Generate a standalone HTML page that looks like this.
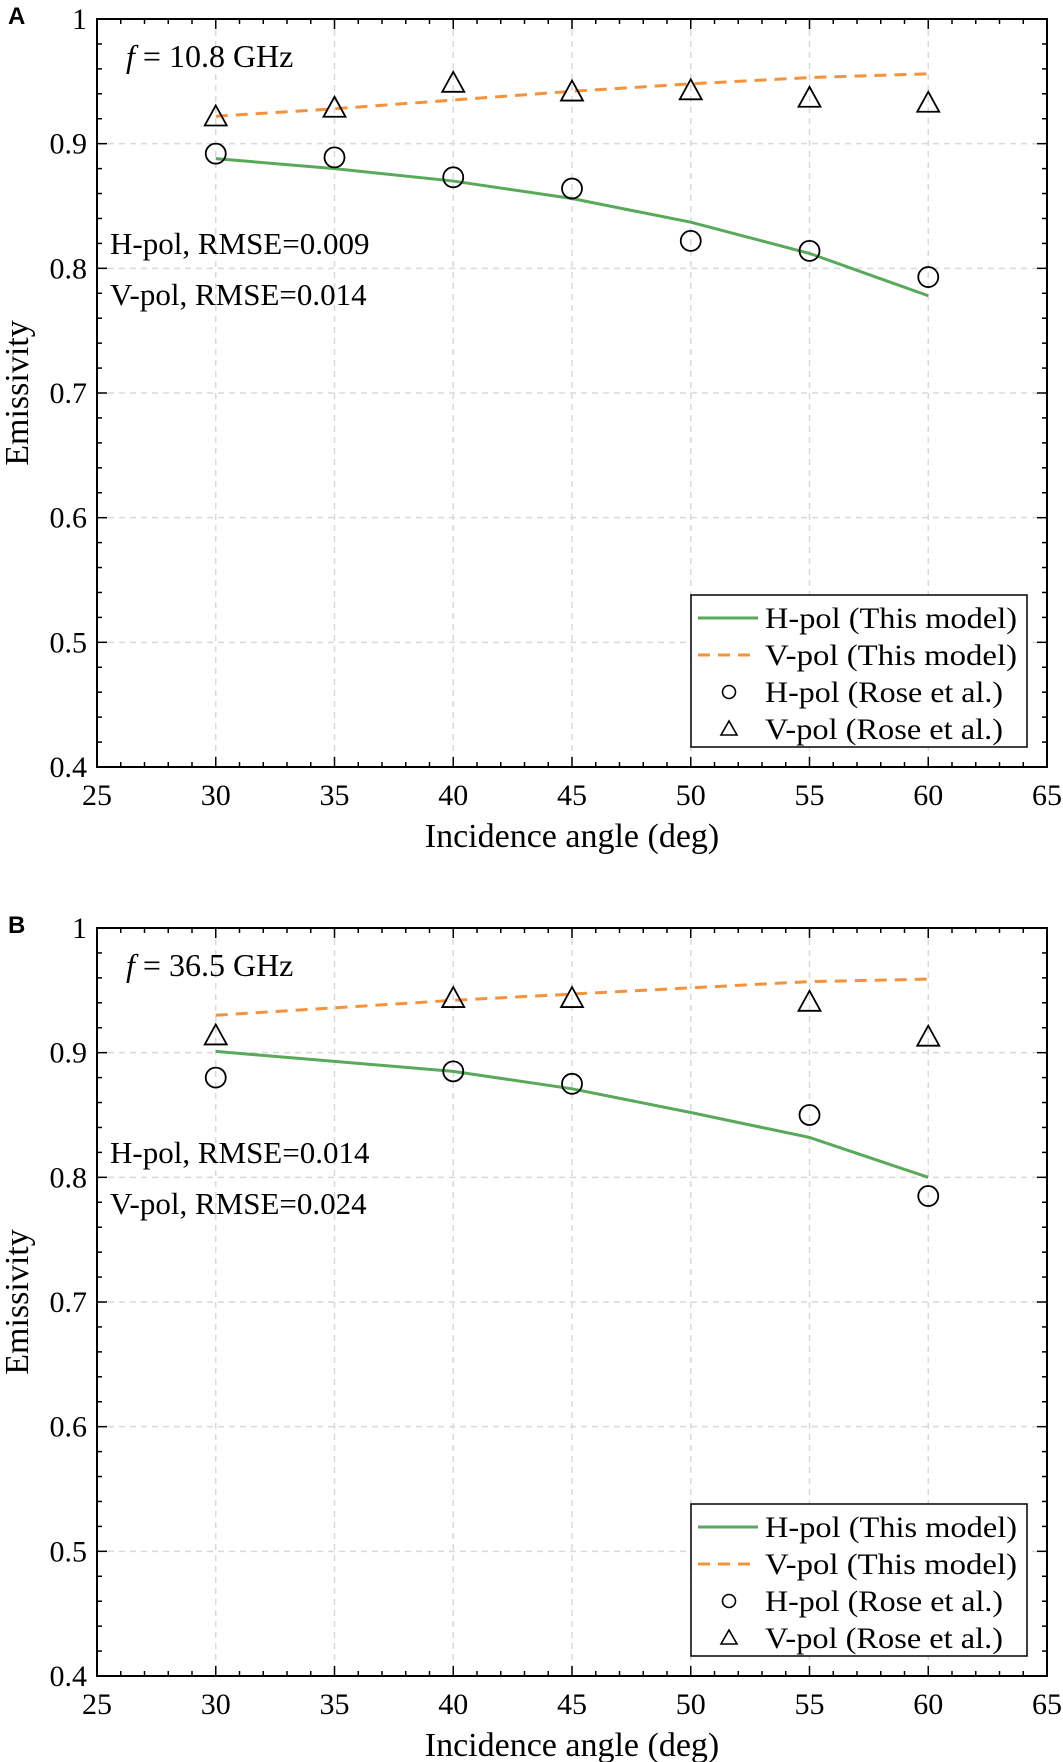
<!DOCTYPE html>
<html><head><meta charset="utf-8"><style>
html,body{margin:0;padding:0;background:#fff;}
svg{display:block;font-family:"Liberation Serif",serif;}
</style></head><body>
<svg id="fig" width="1063" height="1762" viewBox="0 0 1063 1762" xmlns="http://www.w3.org/2000/svg"></svg>
<script>
const NS="http://www.w3.org/2000/svg";
const xTicks=[25,30,35,40,45,50,55,60,65];
const yTicks=[0.4,0.5,0.6,0.7,0.8,0.9,1];
const yTickLabels=["0.4","0.5","0.6","0.7","0.8","0.9","1"];
const modelAngles=[30,35,40,45,50,55,60];
const aHModel=[0.888,0.880,0.870,0.856,0.837,0.812,0.778];
const aVModel=[0.922,0.928,0.935,0.942,0.948,0.953,0.956];
const aObsAngles=[30,35,40,45,50,55,60];
const aHObs=[0.892,0.889,0.873,0.864,0.822,0.814,0.793];
const aVObs=[0.921,0.928,0.948,0.941,0.942,0.936,0.932];
const bHModel=[0.901,0.893,0.885,0.871,0.852,0.832,0.800];
const bVModel=[0.930,0.936,0.942,0.947,0.952,0.957,0.959];
const bObsAngles=[30,40,45,55,60];
const bHObs=[0.880,0.885,0.875,0.850,0.785];
const bVObs=[0.913,0.943,0.943,0.940,0.912];
const svg=document.getElementById('fig');
function el(t,a,p){const e=document.createElementNS(NS,t);for(const k in a)e.setAttribute(k,a[k]);(p||svg).appendChild(e);return e;}
function panel(cfg){
  const L=97,R=1047,T=cfg.top,B=cfg.bottom;
  const sx=v=>L+(v-25)/40*(R-L);
  const sy=v=>B-(v-0.4)/0.6*(B-T);
  const g=el('g',{});
  
  
  xTicks.slice(1,-1).forEach(v=>{const l=el('line',{x1:sx(v),x2:sx(v),y1:T,y2:B,stroke:'#d9d9d9','stroke-width':1.5,'stroke-dasharray':'6,5'},g);});
  yTicks.slice(1,-1).forEach(v=>{const l=el('line',{x1:L,x2:R,y1:sy(v),y2:sy(v),stroke:'#d9d9d9','stroke-width':1.5,'stroke-dasharray':'6,5'},g);});
  for(let v=26;v<65;v++){if(v%5)for(const y of [B,T]){el('line',{x1:sx(v),x2:sx(v),y1:y,y2:y===B?B-5:T+5,stroke:'#000','stroke-width':1.5},g);}}
  for(let i=1;i<30;i++){if(i%5){const v=0.4+i*0.02;for(const x of [L,R])el('line',{x1:x,x2:x===L?L+5:R-5,y1:sy(v),y2:sy(v),stroke:'#000','stroke-width':1.5},g);}}
  xTicks.forEach(v=>{for(const y of [B,T])el('line',{x1:sx(v),x2:sx(v),y1:y,y2:y===B?B-10:T+10,stroke:'#000','stroke-width':1.5},g);
    const t=el('text',{x:sx(v),y:B+38,'font-size':30,'text-anchor':'middle'},g);t.textContent=v;});
  yTicks.forEach((v,i)=>{for(const x of [L,R])el('line',{x1:x,x2:x===L?L+10:R-10,y1:sy(v),y2:sy(v),stroke:'#000','stroke-width':1.5},g);
    const t=el('text',{x:L-10,y:sy(v)+10,'font-size':30,'text-anchor':'end'},g);t.textContent=yTickLabels[i];});
  const fr=el('rect',{x:L,y:T,width:R-L,height:B-T,fill:'none',stroke:'#000','stroke-width':2},g);
  const hp=el('polyline',{points:modelAngles.map((a,i)=>sx(a)+','+sy(cfg.hm[i])).join(' '),fill:'none',stroke:'#59a95a','stroke-width':3},g);
  
  const vp=el('polyline',{points:modelAngles.map((a,i)=>sx(a)+','+sy(cfg.vm[i])).join(' '),fill:'none',stroke:'#f5933a','stroke-width':3,'stroke-dasharray':'12,8'},g);
  
  cfg.oa.forEach((a,i)=>{
    const c=el('circle',{cx:sx(a),cy:sy(cfg.ho[i]),r:10,fill:'none',stroke:'#000','stroke-width':1.8},g);
    
    const x=sx(a),y=sy(cfg.vo[i]);
    const p=el('polygon',{points:`${x},${y-12} ${x-11},${y+8} ${x+11},${y+8}`,fill:'none',stroke:'#000','stroke-width':1.8},g);
    
  });
  const f=el('text',{x:126,y:T+48,'font-size':32},g);f.innerHTML='<tspan font-style="italic">f</tspan> = '+cfg.freq;
  
  const r1=el('text',{x:110,y:T+235,'font-size':31},g);r1.textContent=cfg.r1;
  const r2=el('text',{x:110,y:T+286,'font-size':31},g);r2.textContent=cfg.r2;
  const xt=el('text',{x:(L+R)/2,y:B+80,'font-size':34,'text-anchor':'middle'},g);xt.textContent='Incidence angle (deg)';
  const yc=(T+B)/2;const yt=el('text',{x:28,y:yc,'font-size':34,'text-anchor':'middle',transform:`rotate(-90 28 ${yc})`},g);yt.textContent='Emissivity';
  const pl=el('text',{x:8,y:T+5,'font-size':24,'font-weight':'bold','font-family':'Liberation Sans, sans-serif'},g);pl.textContent=cfg.letter;
  const lg=el('g',{},g);
  const lt=B-172,lx=691;
  el('rect',{x:lx,y:lt,width:336,height:152,fill:'#fff',stroke:'#000','stroke-width':1.5},lg);
  const labels=['H-pol (This model)','V-pol (This model)','H-pol (Rose et al.)','V-pol (Rose et al.)'];
  labels.forEach((s,i)=>{
    const yy=lt+23+i*37;
    const en=el('g',{},lg);
    if(i===0)el('line',{x1:lx+7,x2:lx+67,y1:yy,y2:yy,stroke:'#59a95a','stroke-width':3},en);
    if(i===1)el('line',{x1:lx+7,x2:lx+67,y1:yy,y2:yy,stroke:'#f5933a','stroke-width':3,'stroke-dasharray':'12,8'},en);
    if(i===2)el('circle',{cx:lx+38,cy:yy,r:6.5,fill:'none',stroke:'#000','stroke-width':1.6},en);
    if(i===3)el('polygon',{points:`${lx+38},${yy-8} ${lx+30},${yy+6} ${lx+46},${yy+6}`,fill:'none',stroke:'#000','stroke-width':1.6},en);
    const t=el('text',{x:lx+74,y:yy+10,'font-size':30,textLength:252,lengthAdjust:'spacingAndGlyphs'},en);t.textContent=s;
    if(i>=2)t.setAttribute('textLength',238);
  });
}
panel({name:'panel-a',letter:'A',top:19,bottom:767,hm:aHModel,vm:aVModel,oa:aObsAngles,ho:aHObs,vo:aVObs,freq:'10.8 GHz',r1:'H-pol, RMSE=0.009',r2:'V-pol, RMSE=0.014'});
panel({name:'panel-b',letter:'B',top:928,bottom:1676,hm:bHModel,vm:bVModel,oa:bObsAngles,ho:bHObs,vo:bVObs,freq:'36.5 GHz',r1:'H-pol, RMSE=0.014',r2:'V-pol, RMSE=0.024'});
</script>
</body></html>
